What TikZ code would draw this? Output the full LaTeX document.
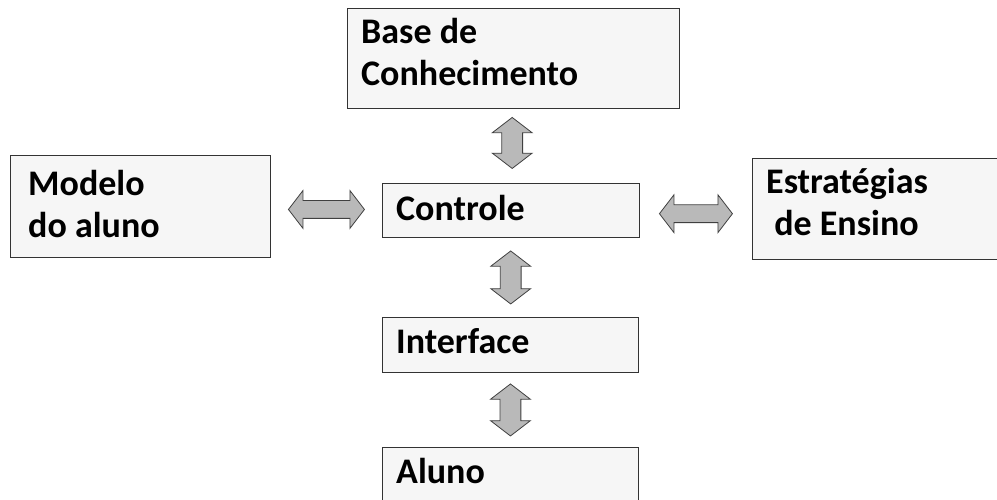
\documentclass[tikz,border=0pt]{standalone}
\usepackage{fontspec}
\setmainfont{Carlito}
\usetikzlibrary{shapes.arrows,calc}
\begin{document}
\begin{tikzpicture}[x=1pt, y=-1pt,
    box/.style={draw=black!80, line width=0.9pt, fill=gray!7, rectangle, inner sep=0pt, anchor=north west},
    txt/.style={anchor=base west, align=left, inner sep=0pt, font=\fontsize{36}{42}\selectfont\bfseries},
    blockarrow/.style={double arrow, draw=black!75, line width=0.8pt, fill=gray!55, inner xsep=0pt,
      double arrow tip angle=105}]
    % page 997 x 499, one pt per pixel
    \useasboundingbox (0,0) rectangle (997,499);
    \node[box, minimum width=332pt, minimum height=100pt] (base) at (347,8) {};
    \node[box, minimum width=260pt, minimum height=102pt] (aluno) at (10,155) {};
    \node[box, minimum width=257pt, minimum height=54pt] (ctrl) at (382,183) {};
    \node[box, minimum width=250pt, minimum height=101pt] (estr) at (752,158) {};
    \node[box, minimum width=256pt, minimum height=55pt] (intf) at (382,317) {};
    \node[box, minimum width=256pt, minimum height=70pt] (user) at (382,447) {};
    \node[txt] (baseT) at (361,85) {Base de\\Conhecimento};
    \node[txt] (alunoT) at (28,237) {Modelo\\do aluno};
    \node[txt] (ctrlT) at (396,220) {Controle};
    \node[txt] (estrT) at (766,235) {Estratégias\\\ de Ensino};
    \node[txt] (intfT) at (396,353) {Interface};
    \node[txt] (userT) at (396,483) {Aluno};
    % block arrows between the boxes
    \node[blockarrow, rotate=90, inner ysep=10pt, double arrow head extend=9.5pt, minimum height=51pt] (a1) at ($(base.south)!0.5!(ctrl.north)+(0,-3)$) {};
    \node[blockarrow, rotate=90, inner ysep=10pt, double arrow head extend=9.5pt, minimum height=53pt] (a2) at ($(ctrl.south)!0.5!(intf.north)$) {};
    \node[blockarrow, rotate=90, inner ysep=10pt, double arrow head extend=9.5pt, minimum height=52pt] (a3) at ($(intf.south)!0.5!(user.north)$) {};
    \node[blockarrow, inner ysep=8.5pt, double arrow head extend=10pt, minimum height=76pt] (a4) at ($(aluno.east)!0.5!(ctrl.west)+(0,1)$) {};
    \node[blockarrow, inner ysep=8.5pt, double arrow head extend=10pt, minimum height=73pt] (a5) at ($(ctrl.east)!0.5!(estr.west)+(0,4)$) {};
\end{tikzpicture}
\end{document}
